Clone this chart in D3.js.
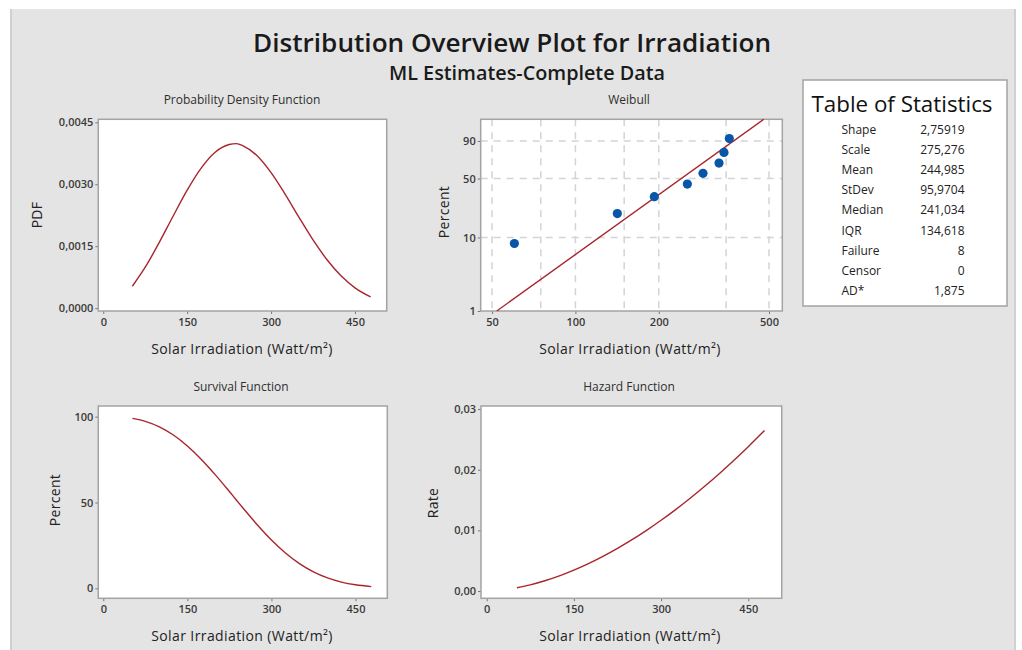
<!DOCTYPE html>
<html>
<head>
<meta charset="utf-8">
<script src="https://cdn.jsdelivr.net/npm/d3@7"></script>
<style>
body { margin: 0; background: #fff; }
text { font-family: "Open Sans", "Noto Sans", sans-serif; }
.tick text { fill: #3a3a3a; font-size: 11px; font-weight: 600; }
.tick line { stroke: #777; }
</style>
</head>
<body>
<div id="graph"></div>
<script>
const irradiation = [52, 75, 100, 125, 150, 175, 200, 225, 238, 250, 275, 300, 325, 350, 375, 400, 425, 450, 478]
const pdfValues = [0.000529, 0.000990, 0.001588, 0.002232, 0.002857, 0.003392, 0.003776, 0.003962, 0.003985, 0.003931,
    0.003691, 0.003282, 0.002762, 0.002197, 0.001651, 0.001171, 0.000782, 0.000491, 0.000270]
const survivalPct = [99.0, 97.27, 94.07, 89.30, 82.92, 75.09, 66.10, 56.37, 51.20, 46.46,
    36.89, 28.14, 20.58, 14.37, 9.56, 6.06, 3.64, 2.06, 1.02]
const hazardRate = [0.000534, 0.001018, 0.001688, 0.002499, 0.003445, 0.004518, 0.005713, 0.007029, 0.007759, 0.008461,
    0.010005, 0.011660, 0.013422, 0.015294, 0.017267, 0.019343, 0.021519, 0.023796, 0.026459]

// Weibull probability plot
const obsX = [60.2, 141.7, 192.7, 253.6, 288.9, 330, 344, 359.5]
const obsPct = [8.33, 20.24, 32.14, 44.05, 55.95, 67.86, 79.76, 91.67]
const fitX = [52, 478.6]
const fitPct = [1, 99]
const weibullXTicks = [50, 100, 200, 500]
const weibullXGrid = [50, 75, 100, 150, 200, 350, 500]
const weibullYTicks = [1, 10, 50, 90]

const linearXTicks = [0, 150, 300, 450]
const pdfTicks = [0, 0.0015, 0.003, 0.0045]
const survTicks = [0, 50, 100]
const hazTicks = [0, 0.01, 0.02, 0.03]

const statNames = ['Shape', 'Scale', 'Mean', 'StDev', 'Median', 'IQR', 'Failure', 'Censor', 'AD*']
const statValues = ['2,75919', '275,276', '244,985', '95,9704', '241,034', '134,618', '8', '0', '1,875']

const lineColor = '#a8262b'
const dotColor = '#0756a8'
const boxColor = '#a3a3a3'

const locale = d3.formatLocale({ decimal: ',', thousands: '.', grouping: [3], currency: ['', ''] })

const svg = d3.select('#graph').append('svg')
    .attr('width', 1022)
    .attr('height', 650)

svg.append('rect').attr('x', 10).attr('y', 9).attr('width', 1006).attr('height', 641).attr('fill', '#e4e4e4')
svg.append('rect').attr('x', 10).attr('y', 9).attr('width', 2).attr('height', 641).attr('fill', '#d0d0d0')
svg.append('rect').attr('x', 1014).attr('y', 9).attr('width', 2).attr('height', 641).attr('fill', '#d0d0d0')

svg.append('text')
    .attr('x', 512).attr('y', 52)
    .attr('text-anchor', 'middle')
    .attr('textLength', 518).attr('lengthAdjust', 'spacingAndGlyphs')
    .style('font-size', '26px').style('font-weight', 600).style('fill', '#1a1a1a')
    .text('Distribution Overview Plot for Irradiation')

svg.append('text')
    .attr('x', 527).attr('y', 80)
    .attr('text-anchor', 'middle')
    .attr('textLength', 276).attr('lengthAdjust', 'spacingAndGlyphs')
    .style('font-size', '20px').style('font-weight', 600).style('fill', '#1a1a1a')
    .text('ML Estimates-Complete Data')

// draws frame, axes and labels for one panel
const drawPanel = (p) => {
    const g = svg.append('g')
    g.append('rect')
        .attr('x', p.x0).attr('y', p.y0)
        .attr('width', p.x1 - p.x0).attr('height', p.y1 - p.y0)
        .attr('fill', '#fff')

    if (p.grid) p.grid(g)

    const xAx = g.append('g')
        .attr('transform', `translate(0,${p.y1})`)
        .call(p.xAxis.tickSize(3).tickSizeOuter(0).tickPadding(4))
    xAx.select('.domain').remove()

    const yAx = g.append('g')
        .attr('transform', `translate(${p.x0},0)`)
        .call(p.yAxis.tickSize(3).tickSizeOuter(0).tickPadding(2))
    yAx.select('.domain').remove()

    g.append('rect')
        .attr('x', p.x0).attr('y', p.y0)
        .attr('width', p.x1 - p.x0).attr('height', p.y1 - p.y0)
        .attr('fill', 'none').attr('stroke', boxColor).attr('stroke-width', 1.5)

    g.append('text')
        .attr('x', p.titleX).attr('y', p.y0 - 15)
        .attr('text-anchor', 'middle')
        .style('font-size', '12px').style('fill', '#2e2e2e')
        .text(p.title)

    g.append('text')
        .attr('x', p.labelX).attr('y', p.y1 + 43)
        .attr('text-anchor', 'middle')
        .style('font-size', '14px').style('letter-spacing', '0.4px').style('fill', '#222')
        .text('Solar Irradiation (Watt/m²)')

    g.append('text')
        .attr('transform', `translate(${p.yLabelX},${p.yLabelY}) rotate(-90)`)
        .attr('text-anchor', 'middle')
        .attr('dominant-baseline', 'middle')
        .style('font-size', '14px').style('letter-spacing', '0.3px').style('fill', '#222')
        .text(p.yLabel)
    return g
}

const addCurve = (g, xScale, yScale, yVals) => {
    const line = d3.line()
        .x((d, i) => xScale(irradiation[i]))
        .y(d => yScale(d))
        .curve(d3.curveMonotoneX)
    g.append('path')
        .datum(yVals)
        .attr('d', line)
        .attr('fill', 'none')
        .attr('stroke', lineColor)
        .attr('stroke-width', 1.4)
}

// --- PDF
let xPdf = d3.scaleLinear().domain([-8.9, 506.7]).range([98.3, 386.7])
let yPdf = d3.scaleLinear().domain([-0.00007, 0.004573]).range([311, 119.3])
let gPdf = drawPanel({
    x0: 98.3, x1: 386.7, y0: 119.3, y1: 311,
    xAxis: d3.axisBottom(xPdf).tickValues(linearXTicks),
    yAxis: d3.axisLeft(yPdf).tickValues(pdfTicks).tickFormat(locale.format('.4f')),
    title: 'Probability Density Function', titleX: 242,
    labelX: 242, yLabel: 'PDF', yLabelX: 38, yLabelY: 215
})
addCurve(gPdf, xPdf, yPdf, pdfValues)

// --- Weibull probability plot
const tf = (p) => Math.log(-Math.log(1 - p / 100))
let xW = d3.scaleLog().domain([45.5, 558.5]).range([480.7, 782.3])
let tW = d3.scaleLinear().domain([tf(1), tf(99)]).range([311, 119.3])
let yW = (p) => tW(tf(p))
let gW = drawPanel({
    x0: 480.7, x1: 782.3, y0: 119.3, y1: 311,
    xAxis: d3.axisBottom(xW).tickValues(weibullXTicks).tickFormat(d3.format('d')),
    yAxis: d3.axisLeft(tW).tickValues(weibullYTicks.map(tf)).tickFormat((d, i) => weibullYTicks[i]),
    title: 'Weibull', titleX: 629,
    labelX: 630, yLabel: 'Percent', yLabelX: 445, yLabelY: 212,
    grid: (g) => {
        g.selectAll('.vgrid')
            .data(weibullXGrid)
            .enter()
            .append('line')
            .attr('x1', d => xW(d)).attr('x2', d => xW(d))
            .attr('y1', 119.3).attr('y2', 311)
            .attr('stroke', '#d4d4d4').attr('stroke-width', 1.5).attr('stroke-dasharray', '7,6')
        g.selectAll('.hgrid')
            .data(weibullYTicks.slice(1))
            .enter()
            .append('line')
            .attr('x1', 480.7).attr('x2', 782.3)
            .attr('y1', d => yW(d)).attr('y2', d => yW(d))
            .attr('stroke', '#d4d4d4').attr('stroke-width', 1.5).attr('stroke-dasharray', '7,6')
    }
})
gW.append('line')
    .attr('x1', xW(fitX[0])).attr('y1', yW(fitPct[0]))
    .attr('x2', xW(fitX[1])).attr('y2', yW(fitPct[1]))
    .attr('stroke', lineColor).attr('stroke-width', 1.4)
gW.selectAll('circle')
    .data(obsX)
    .enter()
    .append('circle')
    .attr('cx', d => xW(d))
    .attr('cy', (d, i) => yW(obsPct[i]))
    .attr('r', 4.6)
    .attr('fill', dotColor)

// --- Survival
let xS = d3.scaleLinear().domain([-8.9, 506.7]).range([98.3, 387.3])
let yS = d3.scaleLinear().domain([-5.8, 106.2]).range([598.3, 406])
let gS = drawPanel({
    x0: 98.3, x1: 387.3, y0: 406, y1: 598.3,
    xAxis: d3.axisBottom(xS).tickValues(linearXTicks),
    yAxis: d3.axisLeft(yS).tickValues(survTicks),
    title: 'Survival Function', titleX: 241,
    labelX: 242, yLabel: 'Percent', yLabelX: 56, yLabelY: 500
})
addCurve(gS, xS, yS, survivalPct)

// --- Hazard
let xH = d3.scaleLinear().domain([-9.8, 507.5]).range([481, 781.7])
let yH = d3.scaleLinear().domain([-0.0012, 0.0305]).range([598.3, 406])
let gH = drawPanel({
    x0: 481, x1: 781.7, y0: 406, y1: 598.3,
    xAxis: d3.axisBottom(xH).tickValues(linearXTicks),
    yAxis: d3.axisLeft(yH).tickValues(hazTicks).tickFormat(locale.format('.2f')),
    title: 'Hazard Function', titleX: 629,
    labelX: 630, yLabel: 'Rate', yLabelX: 434, yLabelY: 503
})
addCurve(gH, xH, yH, hazardRate)

// --- Table of Statistics
let table = svg.append('g')
table.append('rect')
    .attr('x', 803).attr('y', 80).attr('width', 204).attr('height', 226)
    .attr('fill', '#fff').attr('stroke', boxColor).attr('stroke-width', 1.5)
table.append('text')
    .attr('x', 811.5).attr('y', 111.5)
    .attr('textLength', 181).attr('lengthAdjust', 'spacingAndGlyphs')
    .style('font-size', '21px').style('font-weight', 500).style('fill', '#111')
    .text('Table of Statistics')
table.selectAll('.stat-name')
    .data(statNames)
    .enter()
    .append('text')
    .attr('x', 841.5)
    .attr('y', (d, i) => 133.5 + i * 20.2)
    .style('font-size', '12px').style('fill', '#222')
    .text(d => d)
table.selectAll('.stat-value')
    .data(statValues)
    .enter()
    .append('text')
    .attr('x', 964.5)
    .attr('y', (d, i) => 133.5 + i * 20.2)
    .attr('text-anchor', 'end')
    .style('font-size', '12px').style('fill', '#222')
    .text(d => d)
</script>
</body>
</html>
